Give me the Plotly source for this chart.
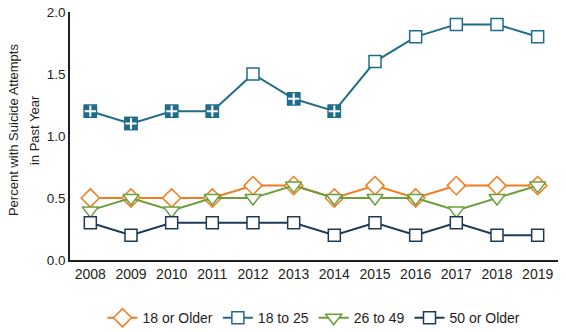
import plotly.graph_objects as go

years = ["2008", "2009", "2010", "2011", "2012", "2013", "2014", "2015", "2016", "2017", "2018", "2019"]
older18 = [0.5, 0.5, 0.5, 0.5, 0.6, 0.6, 0.5, 0.6, 0.5, 0.6, 0.6, 0.6]
age18_25 = [1.2, 1.1, 1.2, 1.2, 1.5, 1.3, 1.2, 1.6, 1.8, 1.9, 1.9, 1.8]
age26_49 = [0.4, 0.5, 0.4, 0.5, 0.5, 0.6, 0.5, 0.5, 0.5, 0.4, 0.5, 0.6]
older50 = [0.3, 0.2, 0.3, 0.3, 0.3, 0.3, 0.2, 0.3, 0.2, 0.3, 0.2, 0.2]
sig18_25 = [True, True, True, True, False, True, True, False, False, False, False, False]
ytitle_lines = ["Percent with Suicide Attempts", "in Past Year"]

ORANGE = "#F47B20"
BLUE = "#1F6D8A"
GREEN = "#6A9F3B"
NAVY = "#1C3A55"
FONT = "Liberation Sans, Arial, sans-serif"

sig_x = [y for y, s in zip(years, sig18_25) if s]
sig_y = [v for v, s in zip(age18_25, sig18_25) if s]

fig = go.Figure()

fig.add_trace(go.Scatter(
    x=years, y=older18, name="18 or Older", mode="lines+markers",
    line=dict(color=ORANGE, width=2),
    marker=dict(symbol="diamond", size=14, color="white", line=dict(color=ORANGE, width=1.5)),
))
fig.add_trace(go.Scatter(
    x=years, y=age18_25, name="18 to 25", mode="lines+markers",
    line=dict(color=BLUE, width=2),
    marker=dict(symbol="square", size=12, color="white", line=dict(color=BLUE, width=1.5)),
))
fig.add_trace(go.Scatter(
    x=sig_x, y=sig_y, mode="markers", showlegend=False, hoverinfo="skip",
    marker=dict(symbol="square", size=12, color=BLUE, line=dict(color=BLUE, width=1.5)),
))
fig.add_trace(go.Scatter(
    x=sig_x, y=sig_y, mode="markers", showlegend=False, hoverinfo="skip",
    marker=dict(symbol="cross-thin", size=8, color="white", line=dict(color="white", width=2)),
))
fig.add_trace(go.Scatter(
    x=years, y=age26_49, name="26 to 49", mode="lines+markers",
    line=dict(color=GREEN, width=2),
    marker=dict(symbol="triangle-down", size=14, color="white", line=dict(color=GREEN, width=1.5)),
))
fig.add_trace(go.Scatter(
    x=years, y=older50, name="50 or Older", mode="lines+markers",
    line=dict(color=NAVY, width=2),
    marker=dict(symbol="square", size=12, color="white", line=dict(color=NAVY, width=1.5)),
))

for txt, shift in zip(ytitle_lines, [-57, -36]):
    fig.add_annotation(text=txt, xref="paper", yref="paper", x=0, y=0.524,
                       xanchor="center", yanchor="middle", xshift=shift,
                       textangle=-90, showarrow=False,
                       font=dict(size=13, family=FONT, color="#231F20"))

fig.update_layout(
    width=566, height=332,
    margin=dict(l=70, r=8, t=12, b=72, autoexpand=False),
    plot_bgcolor="white", paper_bgcolor="white",
    font=dict(family=FONT, size=14, color="#231F20"),
    showlegend=True,
    legend=dict(orientation="h", x=0.5, xanchor="center", y=-0.17, yanchor="top",
                font=dict(size=14), traceorder="normal"),
    xaxis=dict(type="category", range=[-0.5, 11.5], showline=True, linecolor="#231F20",
               linewidth=1.5, showgrid=False, ticks="", zeroline=False),
    yaxis=dict(range=[0, 2.0], dtick=0.5, tickformat=".1f", showline=True,
               linecolor="#231F20", linewidth=1.5, showgrid=False, ticks="",
               zeroline=False, tickfont=dict(size=13.5)),
)

fig.write_html("out.html")
